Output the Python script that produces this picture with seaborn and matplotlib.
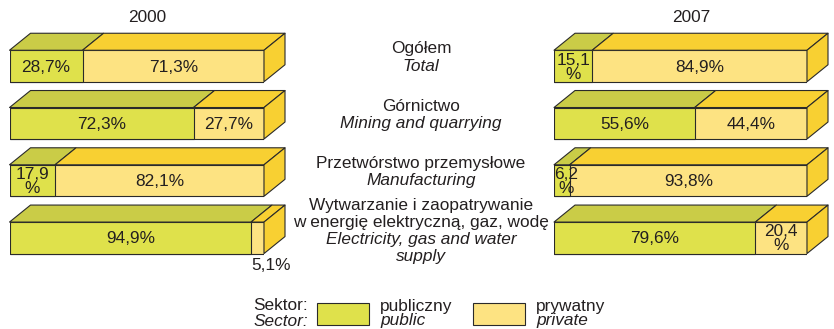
import numpy as np
import pandas as pd
import matplotlib
matplotlib.use("Agg")
import matplotlib.pyplot as plt
from matplotlib.patches import Polygon, Rectangle
from matplotlib import transforms
import seaborn as sns

# ---- data -------------------------------------------------------------
sectors_pl = ["Ogółem", "Górnictwo", "Przetwórstwo przemysłowe",
              "Wytwarzanie i zaopatrywanie\nw energię elektryczną, gaz, wodę"]
sectors_en = ["Total", "Mining and quarrying", "Manufacturing",
              "Electricity, gas and water\nsupply"]
years = ["2000", "2007"]
public_2000 = [28.7, 72.3, 17.9, 94.9]
private_2000 = [71.3, 27.7, 82.1, 5.1]
public_2007 = [15.1, 55.6, 6.2, 79.6]
private_2007 = [84.9, 44.4, 93.8, 20.4]

# ---- style ------------------------------------------------------------
PUB_FRONT = "#dfe14b"
PUB_TOP = "#cacc47"
PRIV_FRONT = "#fde382"
PRIV_TOP = "#f8d032"
EDGE = "#2a2a2a"
TXT = "#231f20"
LW = 0.8
FS = 12.4

sns.set_theme(style="white")
plt.rcParams["font.family"] = ["Liberation Sans", "DejaVu Sans"]

W, H = 834, 329
fig = plt.figure(figsize=(W / 100, H / 100), dpi=100)

# layout in pixels
BAR_TOP_PX = 66.0         # centre of first bar's front face
BAR_STEP_PX = 57.27
BAR_H = 0.55
DX_PX, DY_PX = 21.0, 17.0
PANELS_PX = [(9.5, 264.0), (554.0, 807.0)]
Y_LO, Y_HI = -0.6, 3.6

def fig_y(px):
    return 1 - px / H

def fmt(v):
    return f"{v:.1f}".replace(".", ",")

axes = []
for (x0, x1), year, pub, priv in zip(
        PANELS_PX, years, [public_2000, public_2007], [private_2000, private_2007]):
    top_px = BAR_TOP_PX + Y_LO * BAR_STEP_PX
    bot_px = BAR_TOP_PX + Y_HI * BAR_STEP_PX
    ax = fig.add_axes([x0 / W, fig_y(bot_px), (x1 - x0) / W, (bot_px - top_px) / H])
    df = pd.DataFrame({"sector": sectors_en, "public": pub,
                       "total": np.array(pub) + np.array(priv)})
    # front faces: whole bar in private colour, public share on top of it
    sns.barplot(data=df, x="total", y="sector", orient="h", color=PRIV_FRONT,
                saturation=1, width=BAR_H, edgecolor=EDGE, linewidth=LW,
                errorbar=None, ax=ax)
    sns.barplot(data=df, x="public", y="sector", orient="h", color=PUB_FRONT,
                saturation=1, width=BAR_H, edgecolor=EDGE, linewidth=LW,
                errorbar=None, ax=ax)
    ax.set_xlim(0, 100)
    ax.set_ylim(Y_HI, Y_LO)
    ax.axis("off")

    dx = DX_PX * 100 / (x1 - x0)
    dy = DY_PX / BAR_STEP_PX
    for i, (p, q) in enumerate(zip(pub, priv)):
        t = p + q
        top, bot = i - BAR_H / 2, i + BAR_H / 2
        faces = [
            ([(0, top), (p, top), (p + dx, top - dy), (dx, top - dy)], PUB_TOP),
            ([(p, top), (t, top), (t + dx, top - dy), (p + dx, top - dy)], PRIV_TOP),
            ([(t, top), (t + dx, top - dy), (t + dx, bot - dy), (t, bot)], PRIV_TOP),
        ]
        for pts, col in faces:
            ax.add_patch(Polygon(pts, closed=True, facecolor=col, edgecolor=EDGE,
                                 linewidth=LW, joinstyle="round", clip_on=False,
                                 zorder=3))
        # value labels
        for start, v in ((0, p), (p, q)):
            if v < 6:
                ax.text(start, bot + 11.5 / BAR_STEP_PX, fmt(v) + "%",
                        ha="left", va="center", fontsize=FS, color=TXT,
                        clip_on=False, zorder=5)
            elif v < 21:
                xc = max(start + v / 2, start + 4.7)
                ax.text(xc, i + 0.02, fmt(v) + "\n%", ha="center", va="center",
                        fontsize=FS, color=TXT, linespacing=0.92, zorder=5)
            else:
                ax.text(start + v / 2, i + 0.02, fmt(v) + "%", ha="center",
                        va="center", fontsize=FS, color=TXT, zorder=5)

    # year heading centred over the whole block
    tr = transforms.blended_transform_factory(ax.transData, fig.transFigure)
    ax.text((100 + dx) / 2, fig_y(17), year, transform=tr, ha="center",
            va="center", fontsize=FS, color=TXT)
    axes.append(ax)

# sector names between the panels
CX = 421 / W
for i, (pl, en) in enumerate(zip(sectors_pl, sectors_en)):
    lines = [(s, "normal") for s in pl.split("\n")] + \
            [(s, "italic") for s in en.split("\n")]
    n = len(lines)
    step = 17.5 if n == 2 else 17.0
    centre = BAR_TOP_PX + i * BAR_STEP_PX - DY_PX / 2 + (1.5 if n > 2 else 0)
    for k, (s, style) in enumerate(lines):
        ypx = centre + (k - (n - 1) / 2) * step
        fig.text(CX, fig_y(ypx), s, ha="center", va="center", fontsize=FS,
                 style=style, color=TXT)

# legend
fig.text(308 / W, fig_y(306), "Sektor:", ha="right", va="center", fontsize=FS, color=TXT)
fig.text(308 / W, fig_y(321), "Sector:", ha="right", va="center", fontsize=FS,
         style="italic", color=TXT)
for bx, col, pl, en in ((317, PUB_FRONT, "publiczny", "public"),
                        (473, PRIV_FRONT, "prywatny", "private")):
    fig.patches.append(Rectangle((bx / W, fig_y(325)), 52 / W, 22 / H,
                                 transform=fig.transFigure, facecolor=col,
                                 edgecolor=EDGE, linewidth=LW))
    fig.text((bx + 63) / W, fig_y(306), pl, ha="left", va="center", fontsize=FS, color=TXT)
    fig.text((bx + 63) / W, fig_y(321), en, ha="left", va="center", fontsize=FS,
             style="italic", color=TXT)

fig.savefig("out.png", dpi=100, facecolor="white")
